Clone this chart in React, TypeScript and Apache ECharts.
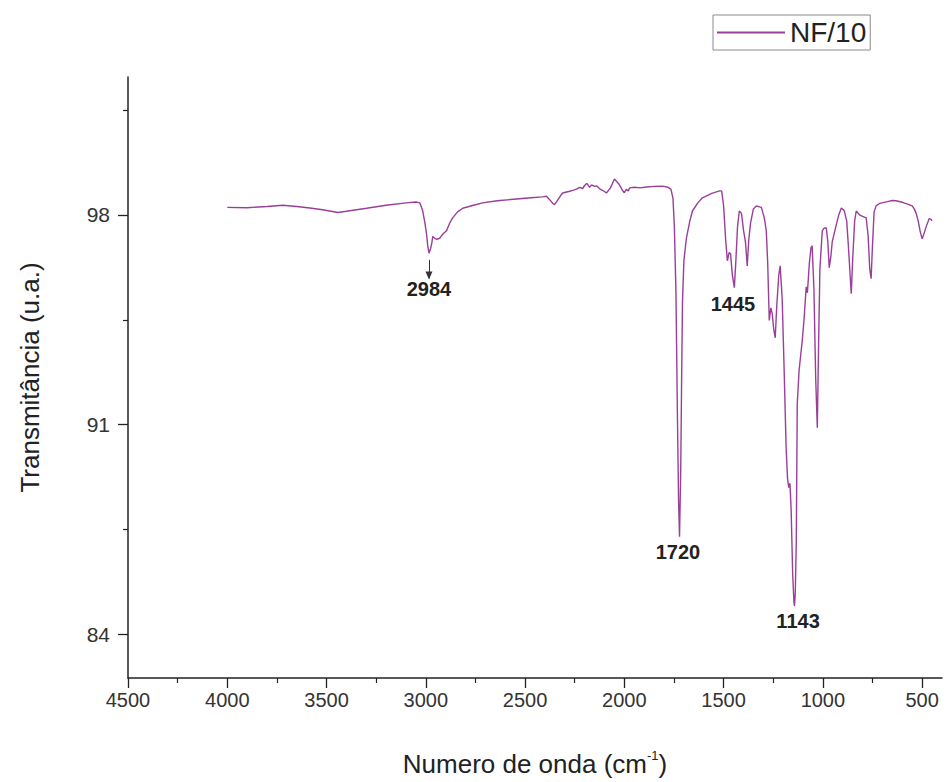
import React, { useEffect, useRef } from "react";
import * as echarts from "echarts";

// Wavenumber (cm^-1) and transmittance (u.a.)
const wavenumbers: number[] = [
  4000, 3900, 3800, 3720, 3650, 3584, 3520, 3443, 3400, 3298, 3200, 3100, 3050, 3030, 3016, 3005, 2996, 2990, 2984, 2977,
  2970, 2965, 2955, 2945, 2930, 2915, 2895, 2880, 2865, 2840, 2814, 2760, 2714, 2640, 2543, 2470, 2412, 2392, 2375, 2360,
  2352, 2340, 2320, 2311, 2280, 2260, 2241, 2225, 2210, 2200, 2190, 2185, 2175, 2165, 2150, 2140, 2120, 2100, 2090, 2070,
  2060, 2050, 2040, 2030, 2020, 2010, 2000, 1990, 1980, 1974, 1950, 1920, 1889, 1850, 1808, 1780, 1765, 1755, 1748, 1740,
  1733, 1727, 1722, 1716, 1711, 1707, 1700, 1688, 1670, 1657, 1630, 1607, 1560, 1520, 1510, 1500, 1490, 1481, 1472, 1465,
  1456, 1446, 1438, 1430, 1421, 1410, 1400, 1390, 1381, 1374, 1365, 1350, 1335, 1310, 1295, 1285, 1278, 1270, 1262, 1255,
  1248, 1240, 1232, 1222, 1215, 1205, 1195, 1185, 1178, 1172, 1166, 1160, 1152, 1146, 1143, 1139, 1134, 1129, 1120, 1112,
  1104, 1095, 1084, 1078, 1068, 1060, 1054, 1045, 1036, 1028, 1022, 1015, 1003, 995, 983, 975, 968, 960, 953, 935,
  920, 907, 893, 880, 870, 862, 857, 850, 840, 832, 815, 800, 782, 772, 764, 757, 750, 742, 732, 715,
  702, 670, 650, 632, 600, 570, 550, 540, 530, 520, 510, 500, 492, 480, 465, 455, 450,
];
const transmittance: number[] = [
  98.25, 98.24, 98.28, 98.32, 98.28, 98.23, 98.17, 98.08, 98.12, 98.22, 98.32, 98.4, 98.43, 98.4, 98.15, 97.75, 97.35, 96.95, 96.72, 96.85,
  97.05, 97.28, 97.22, 97.18, 97.22, 97.35, 97.48, 97.72, 97.9, 98.1, 98.22, 98.32, 98.4, 98.47, 98.53, 98.57, 98.6, 98.62, 98.5, 98.38,
  98.34, 98.45, 98.65, 98.73, 98.78, 98.82, 98.86, 98.92, 98.88, 98.98, 99.05, 99.02, 98.92, 99.0, 98.95, 98.97, 98.85, 98.78, 98.73, 98.9,
  99.05, 99.2, 99.12, 99.05, 98.95, 98.82, 98.74, 98.85, 98.8, 98.9, 98.92, 98.9, 98.93, 98.95, 98.96, 98.92, 98.85, 98.55, 97.6, 95.4,
  91.5, 88.5, 87.26, 89.5, 92.8, 95.14, 96.47, 97.2, 97.8, 98.13, 98.4, 98.57, 98.72, 98.8, 98.8, 98.3, 97.2, 96.47, 96.75, 96.7,
  96.0, 95.57, 96.5, 97.6, 98.13, 98.05, 97.5, 97.1, 96.3, 97.1, 97.7, 98.2, 98.3, 98.25, 97.9, 97.47, 96.4, 94.48, 94.9, 94.7,
  94.2, 93.9, 95.0, 96.0, 96.3, 95.2, 92.8, 90.2, 89.2, 88.9, 89.05, 88.2, 86.0, 85.1, 84.95, 85.4, 87.06, 91.7, 92.8, 93.3,
  93.8, 94.5, 95.6, 95.4, 96.4, 96.9, 96.97, 95.5, 92.5, 90.9, 93.5, 96.2, 97.47, 97.55, 97.57, 97.1, 96.24, 96.6, 97.1, 97.6,
  98.0, 98.23, 98.15, 97.8, 96.8, 95.9, 95.37, 96.5, 97.8, 98.13, 98.0, 97.95, 97.9, 97.3, 96.2, 95.87, 97.0, 98.1, 98.3, 98.38,
  98.4, 98.45, 98.48, 98.47, 98.42, 98.35, 98.3, 98.2, 98.05, 97.8, 97.45, 97.2, 97.35, 97.6, 97.87, 97.85, 97.8,
];

const seriesName = "NF/10";
const xMajorTicks: number[] = [4500, 4000, 3500, 3000, 2500, 2000, 1500, 1000, 500];
const xMinorTicks: number[] = [4250, 3750, 3250, 2750, 2250, 1750, 1250, 750];
const yMajorTicks: number[] = [84, 91, 98];
const yMinorTicks: number[] = [87.5, 94.5, 101.5];

// peak annotations: label text, label anchor (wavenumber, transmittance)
const peakLabels: string[] = ["2984", "1445", "1720", "1143"];
const peakLabelX: number[] = [2984, 1453, 1730, 1125];
const peakLabelY: number[] = [95.52, 95.04, 86.76, 84.44];
// arrow under the 2984 band: from (wn, top) down to (wn, bottom)
const arrowWn = 2984;
const arrowTop = 96.5;
const arrowBottom = 95.88;

const FONT = "'Liberation Sans', Arial, Helvetica, sans-serif";
const LINE_COLOR = "#9a3e9a";
const AXIS_COLOR = "#222";

export default function App() {
  const ref = useRef<HTMLDivElement>(null);

  useEffect(() => {
    if (!ref.current) return;
    const chart = echarts.init(ref.current, undefined, { renderer: "svg" });

    const data = wavenumbers.map((w, i) => [w, transmittance[i]]);
    const xRange = { min: 400, max: 4500 };
    const yRange = { min: 82.55, max: 102.6 };
    const plain = (v: number) => String(v);

    const labelPoints = peakLabels.map((t, i) => ({ name: t, coord: [peakLabelX[i], peakLabelY[i]] }));
    const arrowHead = {
      name: "arrowhead",
      coord: [arrowWn, arrowBottom],
      symbol: "triangle",
      symbolSize: [7, 8],
      symbolRotate: 180,
      symbolOffset: [0, -3],
      itemStyle: { color: "#333" },
      label: { show: false },
    };

    const option: any = {
      animation: false,
      backgroundColor: "#ffffff",
      textStyle: { fontFamily: FONT },
      grid: { left: 128, right: 6, top: 77, bottom: 104, containLabel: false },
      legend: {
        show: true,
        left: 713,
        top: 15,
        padding: [2, 4, 2, 4],
        borderColor: "#8a8a8a",
        borderWidth: 1,
        itemWidth: 68,
        itemHeight: 2,
        textStyle: { fontSize: 28, lineHeight: 31, color: "#222", fontFamily: FONT },
        data: [{ name: seriesName, icon: "rect", itemStyle: { color: LINE_COLOR } }],
      },
      xAxis: [
        {
          type: "value",
          ...xRange,
          inverse: true,
          position: "bottom",
          name: "{a|Numero de onda (cm}{s|-1}{a|)}",
          nameLocation: "middle",
          nameGap: 71,
          nameTextStyle: {
            rich: {
              a: { fontSize: 26, color: "#222", fontFamily: FONT, lineHeight: 30 },
              s: { fontSize: 13, color: "#222", fontFamily: FONT, lineHeight: 16, verticalAlign: "top" },
            },
          },
          axisLine: { show: true, onZero: false, lineStyle: { color: AXIS_COLOR, width: 1.5 } },
          axisTick: { show: true, length: 10, customValues: xMajorTicks, lineStyle: { color: AXIS_COLOR, width: 1.3 } },
          axisLabel: { customValues: xMajorTicks, formatter: plain, fontSize: 20, color: "#333", margin: 12, fontFamily: FONT },
          splitLine: { show: false },
        },
        {
          type: "value",
          ...xRange,
          inverse: true,
          position: "bottom",
          axisLine: { show: false },
          axisTick: { show: true, length: 5, customValues: xMinorTicks, lineStyle: { color: AXIS_COLOR, width: 1.2 } },
          axisLabel: { show: false },
          splitLine: { show: false },
        },
      ],
      yAxis: [
        {
          type: "value",
          ...yRange,
          position: "left",
          name: "Transmitância (u.a.)",
          nameLocation: "middle",
          nameGap: 85,
          nameTextStyle: { fontSize: 26, color: "#222", fontFamily: FONT },
          axisLine: { show: true, onZero: false, lineStyle: { color: AXIS_COLOR, width: 1.5 } },
          axisTick: { show: true, length: 10, customValues: yMajorTicks, lineStyle: { color: AXIS_COLOR, width: 1.3 } },
          axisLabel: { customValues: yMajorTicks, formatter: plain, fontSize: 21, color: "#333", margin: 18, fontFamily: FONT },
          splitLine: { show: false },
        },
        {
          type: "value",
          ...yRange,
          position: "left",
          axisLine: { show: false },
          axisTick: { show: true, length: 5, customValues: yMinorTicks, lineStyle: { color: AXIS_COLOR, width: 1.2 } },
          axisLabel: { show: false },
          splitLine: { show: false },
        },
      ],
      series: [
        {
          name: seriesName,
          type: "line",
          xAxisIndex: 0,
          yAxisIndex: 0,
          data,
          symbol: "none",
          smooth: false,
          lineStyle: { color: LINE_COLOR, width: 1.4 },
          itemStyle: { color: LINE_COLOR },
          markLine: {
            silent: true,
            symbol: ["none", "none"],
            lineStyle: { color: "#333", width: 1, type: "solid" },
            label: { show: false },
            data: [[{ coord: [arrowWn, arrowTop] }, { coord: [arrowWn, arrowBottom] }]],
          },
          markPoint: {
            silent: true,
            symbol: "circle",
            symbolSize: 1,
            itemStyle: { color: "rgba(0,0,0,0)" },
            label: {
              show: true,
              position: "inside",
              formatter: "{b}",
              fontSize: 20,
              fontWeight: "bold",
              color: "#222",
              fontFamily: FONT,
            },
            data: [...labelPoints, arrowHead],
          },
        },
      ],
    };

    chart.setOption(option);
    return () => chart.dispose();
  }, []);

  return (
    <div
      ref={ref}
      style={{ position: "fixed", left: 0, top: 0, width: 948, height: 782, background: "#fff" }}
    />
  );
}
